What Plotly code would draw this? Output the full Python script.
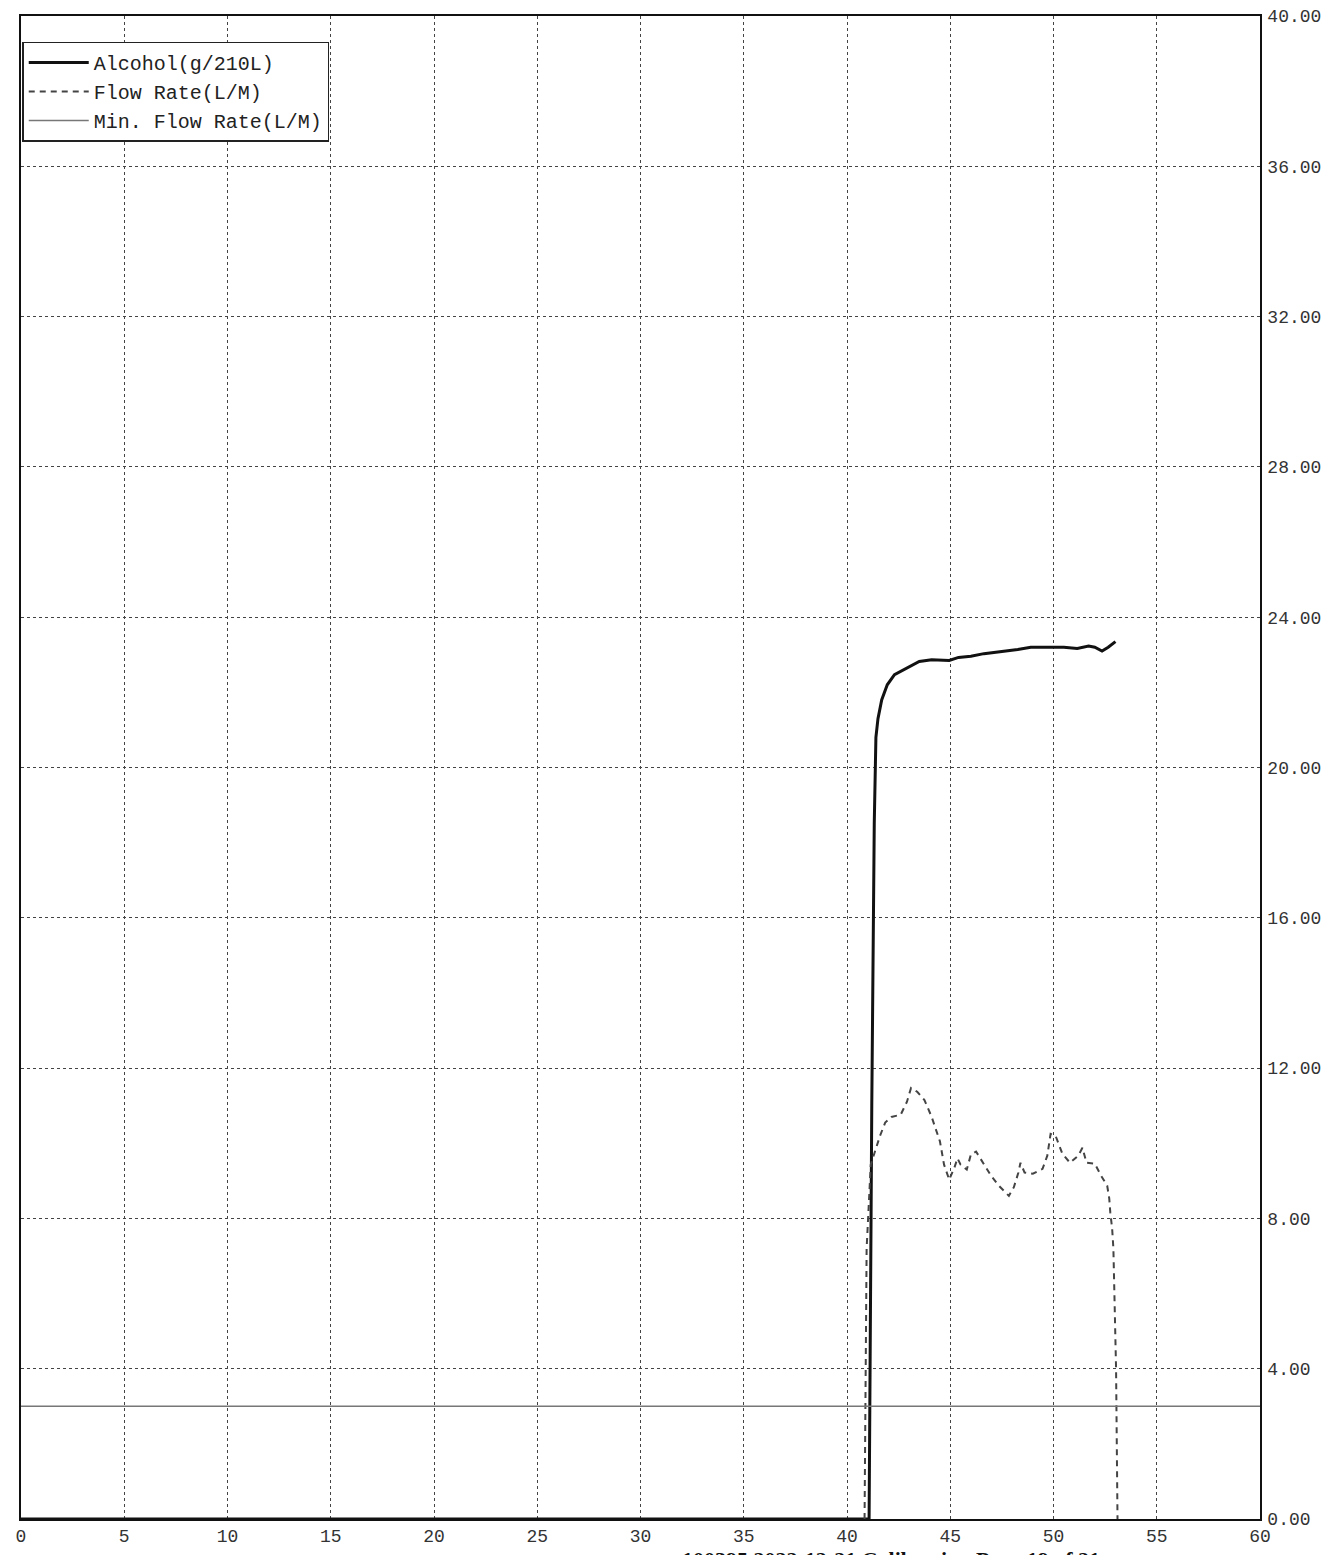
import plotly.graph_objects as go

# Alcohol (g/210L) trace
alc_t = [0, 41.07, 41.2, 41.32, 41.4, 41.5, 41.68, 41.95, 42.3, 42.8, 43.5, 44.1, 44.95,
         45.4, 46.0, 46.63, 47.1, 47.6, 48.27, 48.9, 49.7, 50.5, 51.15, 51.7, 52.0, 52.35,
         52.65, 53.0]
alc_v = [0, 0, 11.0, 18.5, 20.8, 21.3, 21.8, 22.2, 22.47, 22.62, 22.82, 22.87, 22.85,
         22.93, 22.96, 23.03, 23.06, 23.1, 23.14, 23.2, 23.2, 23.2, 23.17, 23.23, 23.2, 23.1,
         23.2, 23.35]

# Flow rate (L/M) trace
flow_t = [40.85, 40.95, 41.15, 41.35, 41.6, 41.85, 42.15, 42.6, 42.9, 43.1, 43.4, 43.75, 44.1,
          44.5, 44.7, 44.95, 45.2, 45.35, 45.5, 45.8, 46.0, 46.25, 46.6, 46.97, 47.35,
          47.84, 48.08, 48.3, 48.4, 48.6, 49.0, 49.47, 49.7, 49.86, 50.1, 50.24, 50.43,
          50.8, 51.2, 51.4, 51.6, 52.0, 52.3, 52.6, 52.7, 52.75, 52.84, 52.9, 53.03, 53.1]
flow_v = [0, 7.2, 9.43, 9.78, 10.2, 10.55, 10.7, 10.76, 11.1, 11.47, 11.37, 11.15, 10.7,
          10.05, 9.43, 9.03, 9.35, 9.6, 9.43, 9.3, 9.7, 9.78, 9.46, 9.14, 8.87,
          8.6, 8.83, 9.22, 9.48, 9.22, 9.19, 9.32, 9.67, 10.25, 10.2, 9.98, 9.72,
          9.48, 9.67, 9.88, 9.48, 9.46, 9.14, 8.87, 8.53, 8.16, 7.73, 7.2, 4.0, 0]

# Minimum flow rate (L/M)
minflow_t = [0, 60]
minflow_v = [3.0, 3.0]

x_ticks = list(range(0, 61, 5))
y_ticks = [0, 4, 8, 12, 16, 20, 24, 28, 32, 36, 40]
y_tick_text = [f"{v:.2f}" for v in y_ticks]

series_names = ["Alcohol(g/210L)", "Flow Rate(L/M)", "Min. Flow Rate(L/M)"]
footer = "100395 2022-12-21 Calibration Page 19 of 21"

MONO = "Liberation Mono"

fig = go.Figure()
fig.add_trace(go.Scatter(x=alc_t, y=alc_v, mode="lines", name=series_names[0],
                         line=dict(color="#111111", width=3)))
fig.add_trace(go.Scatter(x=flow_t, y=flow_v, mode="lines", name=series_names[1],
                         line=dict(color="#444444", width=2, dash="6px,5px")))
fig.add_trace(go.Scatter(x=minflow_t, y=minflow_v, mode="lines", name=series_names[2],
                         line=dict(color="#777777", width=1.5)))

fig.update_layout(
    width=1341, height=1555,
    margin=dict(l=13, r=89, t=8, b=44, autoexpand=False),
    paper_bgcolor="white", plot_bgcolor="white",
    font=dict(family=MONO, size=18, color="#222222"),
    showlegend=True,
    legend=dict(x=0.001, y=0.983, xanchor="left", yanchor="top",
                bgcolor="white", bordercolor="#222222", borderwidth=1.5,
                font=dict(family=MONO, size=20, color="#222222"),
                tracegroupgap=0, itemwidth=60),
    xaxis=dict(range=[0, 60], tickmode="array", tickvals=x_ticks,
               ticktext=[str(v) for v in x_ticks], automargin=False,
               ticklabeloverflow="allow",
               showgrid=True, gridcolor="#444444", gridwidth=1, griddash="dot",
               showline=True, linecolor="#111111", linewidth=1.5, mirror=True,
               zeroline=False, ticks="", ticklabelstandoff=0,
               tickfont=dict(family=MONO, size=18, color="#333333")),
    yaxis=dict(range=[0, 40], side="right", tickmode="array", tickvals=y_ticks,
               ticktext=y_tick_text, automargin=False,
               ticklabeloverflow="allow",
               showgrid=True, gridcolor="#444444", gridwidth=1, griddash="dot",
               showline=True, linecolor="#111111", linewidth=1.5, mirror=True,
               zeroline=False, ticks="", ticklabelstandoff=2,
               tickfont=dict(family=MONO, size=18, color="#333333")),
    annotations=[dict(text=f"<b>{footer}</b>", xref="paper", yref="paper",
                      x=0.532, y=-0.0172, xanchor="left", yanchor="top",
                      showarrow=False,
                      font=dict(family="Liberation Serif", size=22, color="#111111"))],
)

fig.write_html("out.html")
